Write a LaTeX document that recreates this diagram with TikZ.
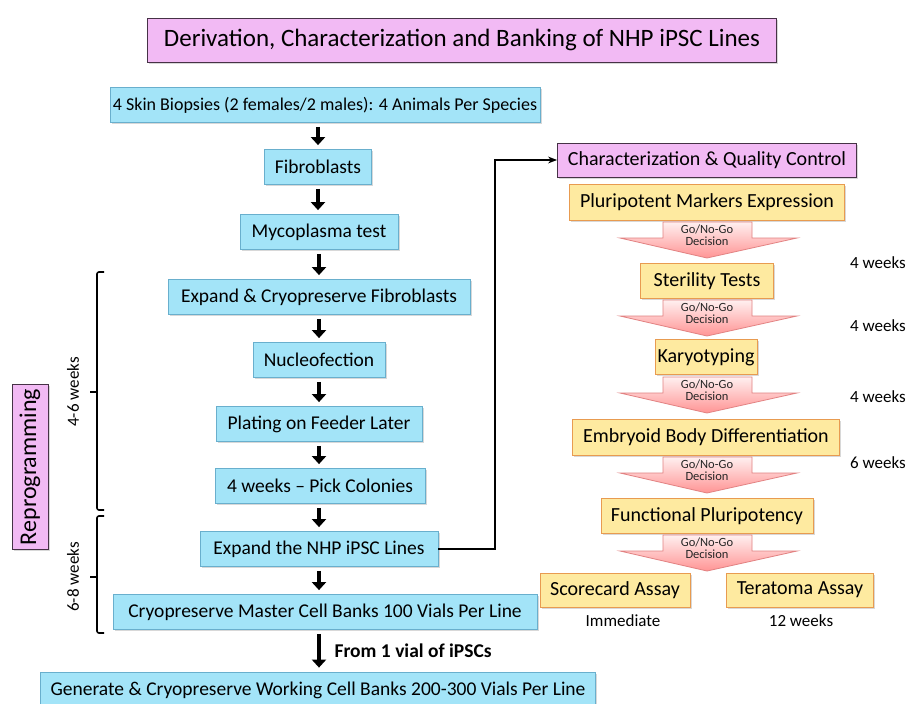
\documentclass[tikz,border=0pt]{standalone}
\usepackage{fontspec}
\setmainfont{Carlito}
\usetikzlibrary{arrows.meta,shadows}

\definecolor{bluefill}{RGB}{163,228,248}
\definecolor{blueline}{RGB}{105,175,205}
\definecolor{pinkfill}{RGB}{242,186,244}
\definecolor{pinkline}{RGB}{70,50,70}
\definecolor{yelfill}{RGB}{254,234,160}
\definecolor{yelline}{RGB}{232,155,80}
\definecolor{decline}{RGB}{226,130,130}

\tikzset{
  box/.style={draw, thick, minimum height=35, inner sep=2pt,
    drop shadow={shadow xshift=1.5pt, shadow yshift=-1.5pt, opacity=0.3}},
  bluebox/.style={box, draw=blueline, fill=bluefill, font=\fontsize{19.5}{22}\selectfont},
  pinkbox/.style={box, draw=pinkline, fill=pinkfill},
  yelbox/.style={box, draw=yelline, fill=yelfill, font=\fontsize{20}{23}\selectfont},
  blk/.style={line width=4.5pt, -{Triangle[width=14pt,length=8pt]}, shorten >=4pt, shorten <=4pt},
  decision/.style={draw=decline, thick, top color=red!6, bottom color=red!42},
  dectext/.style={align=center, font=\fontsize{12.5}{11.5}\selectfont, text=black!85, inner sep=0pt},
  brack/.style={line width=1.6pt, rounded corners=2pt},
  weeks/.style={font=\fontsize{17}{20}\selectfont}
}

% Go/No-Go arrow below a yellow box
\newcommand{\gonogo}[2]{%
  \draw[decision] (663,#2) -- (752,#2) -- (752,#2+16) -- (797,#2+16)
    -- (707,#2+36) -- (620,#2+16) -- (663,#2+16) -- cycle;
  \node[dectext] (#1) at (707,#2+13) {Go/No-Go\\Decision};
}

\begin{document}
\begin{tikzpicture}[x=1pt, y=-1pt]
    \useasboundingbox[fill=white] (0,0) rectangle (908,704);

    \node[pinkbox, minimum width=629, minimum height=44, font=\fontsize{25}{28}\selectfont]
        (title) at (462,40) {Derivation, Characterization and Banking of NHP iPSC Lines};

    % left column
    \node[bluebox, minimum width=430, font=\fontsize{18}{21}\selectfont] (skin) at (325,105) {4 Skin Biopsies (2 females/2 males): 4 Animals Per Species};
    \node[bluebox, minimum width=107] (fib) at (318,167) {Fibroblasts};
    \node[bluebox, minimum width=158] (myco) at (319,232) {Mycoplasma test};
    \node[bluebox, minimum width=302] (expfib) at (319,297) {Expand \& Cryopreserve Fibroblasts};
    \node[bluebox, minimum width=132] (nucleo) at (319,360) {Nucleofection};
    \node[bluebox, minimum width=206] (plating) at (319,424) {Plating on Feeder Later};
    \node[bluebox, minimum width=210] (pick) at (320,486) {4 weeks -- Pick Colonies};
    \node[bluebox, minimum width=238] (ipsc) at (319,549) {Expand the NHP iPSC Lines};
    \node[bluebox, minimum width=424] (master) at (325,612) {Cryopreserve Master Cell Banks 100 Vials Per Line};
    \node[bluebox, minimum width=555, minimum height=36] (working) at (318,690) {Generate \& Cryopreserve Working Cell Banks 200-300 Vials Per Line};

    \draw[blk] (skin.south -| fib) -- (fib.north);
    \draw[blk] (fib.south) -- (myco.north -| fib);
    \draw[blk] (myco.south) -- (expfib.north);
    \draw[blk] (expfib.south) -- (nucleo.north);
    \draw[blk] (nucleo.south) -- (plating.north);
    \draw[blk] (plating.south) -- (pick.north -| plating);
    \draw[blk] (pick.south -| plating) -- (ipsc.north);
    \draw[blk] (ipsc.south) -- (master.north -| ipsc);
    \draw[blk] (master.south -| ipsc) -- (working.north -| ipsc)
        node[midway, right=10pt, font=\bfseries\fontsize{19.5}{22}\selectfont] (vial) {From 1 vial of iPSCs};

    % brackets
    \draw[brack] (104,272) -- (97,272) -- (97,510) -- (104,510);
    \draw[brack] (97,392) -- (90,392);
    \draw[brack] (104,516) -- (97,516) -- (97,633) -- (104,633);
    \draw[brack] (97,577) -- (90,577);
    \node[weeks, rotate=90] (w46) at (73,392) {4-6 weeks};
    \node[weeks, rotate=90] (w68) at (73,577) {6-8 weeks};
    \node[pinkbox, rotate=90, minimum width=165, minimum height=36, font=\fontsize{24}{28}\selectfont]
        (reprog) at (30,467) {Reprogramming};

    % right column
    \node[pinkbox, minimum width=299, minimum height=34, font=\fontsize{20}{23}\selectfont]
        (charqc) at (707,160) {Characterization \& Quality Control};
    \coordinate (turn) at (495,160);
    \draw[line width=1.8pt, -{Stealth[length=9pt]}] (ipsc.east) -| (turn) -- (charqc.west);

    \node[yelbox, minimum width=275, minimum height=36] (markers) at (707,202) {Pluripotent Markers Expression};
    \node[yelbox, minimum width=133] (steril) at (707,281) {Sterility Tests};
    \node[yelbox, minimum width=102] (karyo) at (706,357) {Karyotyping};
    \node[yelbox, minimum width=267, minimum height=36] (embryo) at (706,437) {Embryoid Body Differentiation};
    \node[yelbox, minimum width=212] (funct) at (707,516) {Functional Pluripotency};
    \node[yelbox, minimum width=150, minimum height=34] (score) at (615,590) {Scorecard Assay};
    \node[yelbox, minimum width=147, minimum height=34] (terat) at (800,590) {Teratoma Assay};

    \gonogo{d1}{222}
    \gonogo{d2}{300}
    \gonogo{d3}{377}
    \gonogo{d4}{457}
    \gonogo{d5}{535}

    \node[weeks] (t1) at (878,263) {4 weeks};
    \node[weeks] (t2) at (878,326) {4 weeks};
    \node[weeks] (t3) at (878,397) {4 weeks};
    \node[weeks] (t4) at (878,463) {6 weeks};
    \node[weeks] (imm) at (623,621) {Immediate};
    \node[weeks] (t5) at (801,621) {12 weeks};
\end{tikzpicture}
\end{document}
